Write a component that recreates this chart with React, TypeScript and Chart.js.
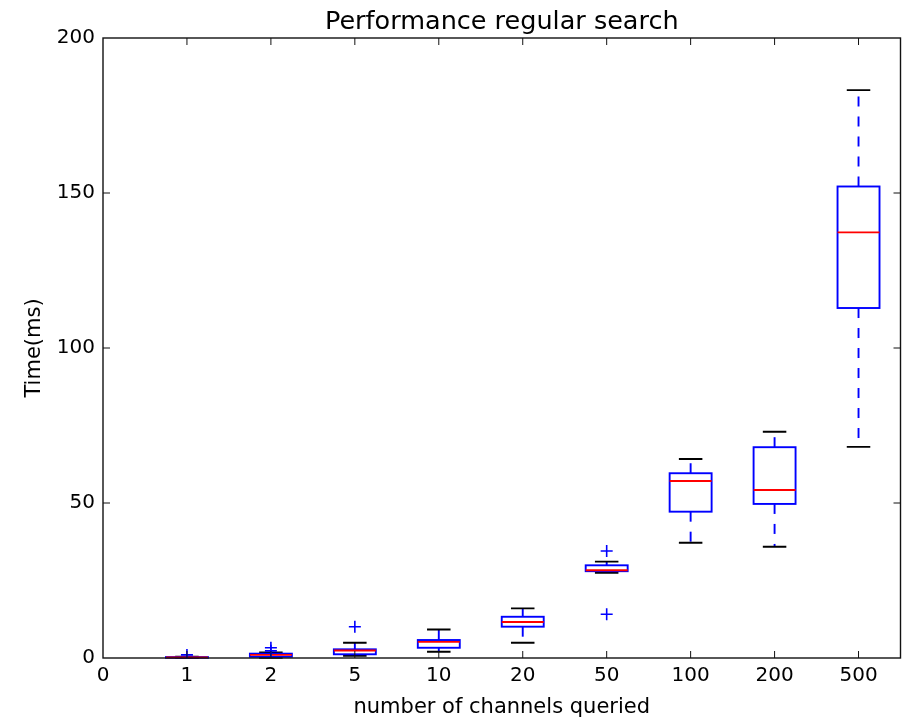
import React, { useEffect, useRef } from 'react';
import { Chart, registerables } from 'chart.js';

Chart.register(...registerables);

// ---- data ----
const categories = ['1', '2', '5', '10', '20', '50', '100', '200', '500'];
const whiskerLow = [0.0, 0.1, 0.75, 2.0, 4.9, 27.5, 37.2, 35.9, 68.1];
const q1 = [0.05, 0.4, 1.2, 3.3, 10.1, 28.0, 47.2, 49.7, 112.9];
const median = [0.2, 1.0, 2.4, 5.2, 11.6, 28.3, 57.1, 54.2, 137.3];
const q3 = [0.3, 1.4, 2.8, 5.8, 13.3, 29.9, 59.6, 68.0, 152.1];
const whiskerHigh = [0.4, 1.8, 4.9, 9.2, 16.0, 31.1, 64.2, 73.0, 183.2];
const outliers: number[][] = [[1.0], [2.3, 3.3], [10.1], [], [], [14.1, 34.5], [], [], []];
const yTicks = [0, 50, 100, 150, 200];
const xTickLabels = ['0', ...categories];

const titleText = 'Performance regular search';
const xLabel = 'number of channels queried';
const yLabel = 'Time(ms)';

const FONT = '"DejaVu Sans", "Liberation Sans", sans-serif';
const BOX_WIDTH = 0.5;
const CAP_WIDTH = 0.28;
const LW = 1.9;

const boxPlugin = {
  id: 'boxplotDraw',
  beforeDatasetsDraw(chart: any) {
    const ctx = chart.ctx;
    const xs = chart.scales.x;
    const ys = chart.scales.y;
    ctx.save();
    categories.forEach((_, i) => {
      const pos = i + 1;
      const cx = xs.getPixelForValue(pos);
      const hw = (xs.getPixelForValue(pos + BOX_WIDTH / 2) - xs.getPixelForValue(pos - BOX_WIDTH / 2)) / 2;
      const cw = (xs.getPixelForValue(pos + CAP_WIDTH / 2) - xs.getPixelForValue(pos - CAP_WIDTH / 2)) / 2;
      const pLo = ys.getPixelForValue(whiskerLow[i]);
      const pQ1 = ys.getPixelForValue(q1[i]);
      const pMed = ys.getPixelForValue(median[i]);
      const pQ3 = ys.getPixelForValue(q3[i]);
      const pHi = ys.getPixelForValue(whiskerHigh[i]);

      // whiskers (dashed blue)
      ctx.strokeStyle = '#0000ff';
      ctx.lineWidth = LW;
      ctx.setLineDash([10, 10]);
      ctx.beginPath();
      ctx.moveTo(cx, pQ1);
      ctx.lineTo(cx, pLo);
      ctx.stroke();
      ctx.beginPath();
      ctx.moveTo(cx, pQ3);
      ctx.lineTo(cx, pHi);
      ctx.stroke();
      ctx.setLineDash([]);

      // caps
      ctx.strokeStyle = '#000000';
      ctx.lineWidth = LW;
      ctx.beginPath();
      ctx.moveTo(cx - cw, pLo);
      ctx.lineTo(cx + cw, pLo);
      ctx.moveTo(cx - cw, pHi);
      ctx.lineTo(cx + cw, pHi);
      ctx.stroke();

      // box
      ctx.strokeStyle = '#0000ff';
      ctx.lineWidth = LW;
      ctx.strokeRect(cx - hw, pQ3, 2 * hw, pQ1 - pQ3);

      // median
      ctx.strokeStyle = '#ff0000';
      ctx.beginPath();
      ctx.moveTo(cx - hw, pMed);
      ctx.lineTo(cx + hw, pMed);
      ctx.stroke();
    });
    ctx.restore();
  },
  afterDraw(chart: any) {
    const ctx = chart.ctx;
    const { left, right, top, bottom } = chart.chartArea;
    const xs = chart.scales.x;
    const ys = chart.scales.y;
    ctx.save();
    // frame
    ctx.strokeStyle = '#111111';
    ctx.lineWidth = 1.4;
    ctx.strokeRect(left, top, right - left, bottom - top);
    // inward ticks
    const tl = 7;
    ctx.lineWidth = 1;
    ctx.beginPath();
    xs.ticks.forEach((t: any) => {
      const px = xs.getPixelForValue(t.value);
      if (px <= left + 1 || px >= right - 1) return;
      ctx.moveTo(px, bottom);
      ctx.lineTo(px, bottom - tl);
      ctx.moveTo(px, top);
      ctx.lineTo(px, top + tl);
    });
    ys.ticks.forEach((t: any) => {
      const py = ys.getPixelForValue(t.value);
      if (py <= top + 1 || py >= bottom - 1) return;
      ctx.moveTo(left, py);
      ctx.lineTo(left + tl, py);
      ctx.moveTo(right, py);
      ctx.lineTo(right - tl, py);
    });
    ctx.stroke();
    // title centred over the plot area
    ctx.fillStyle = '#000000';
    ctx.font = `25.5px ${FONT}`;
    ctx.textAlign = 'center';
    ctx.textBaseline = 'alphabetic';
    ctx.fillText(titleText, (left + right) / 2, 28.5);
    ctx.restore();
  },
};

export default function App() {
  const canvasRef = useRef<HTMLCanvasElement | null>(null);

  useEffect(() => {
    if (!canvasRef.current) return;
    const outlierPoints: { x: number; y: number }[] = [];
    outliers.forEach((list, i) => list.forEach((v) => outlierPoints.push({ x: i + 1, y: v })));

    const chart = new Chart(canvasRef.current, {
      type: 'scatter',
      data: {
        datasets: [
          {
            label: 'outliers',
            data: outlierPoints,
            pointStyle: 'cross',
            pointRadius: 6,
            pointBorderWidth: 1.6,
            borderColor: '#0000ff',
            backgroundColor: '#0000ff',
            showLine: false,
          },
        ],
      },
      options: {
        animation: false,
        responsive: false,
        devicePixelRatio: 1,
        layout: { autoPadding: false, padding: { top: 38, right: 1.5, bottom: 0, left: 0 } },
        plugins: {
          legend: { display: false },
          tooltip: { enabled: false },
          title: { display: false },
        },
        scales: {
          x: {
            type: 'linear',
            min: 0,
            max: 9.5,
            afterBuildTicks: (s: any) => {
              s.ticks = xTickLabels.map((_, i) => ({ value: i }));
            },
            afterFit: (s: any) => {
              s.height = 64;
              s.paddingLeft = 0;
              s.paddingRight = 0;
            },
            ticks: {
              autoSkip: false,
              maxRotation: 0,
              padding: 6,
              color: '#000000',
              font: { family: FONT, size: 20 },
              callback: (v: any) => xTickLabels[Math.round(Number(v))] ?? '',
            },
            grid: { display: false, drawTicks: false },
            border: { display: false },
            title: {
              display: true,
              text: xLabel,
              color: '#000000',
              font: { family: FONT, size: 21 },
              padding: { top: 0, bottom: 1.5 },
            },
          },
          y: {
            type: 'linear',
            min: 0,
            max: 200,
            afterBuildTicks: (s: any) => {
              s.ticks = yTicks.map((v) => ({ value: v }));
            },
            afterFit: (s: any) => {
              s.width = 103;
              s.paddingTop = 0;
              s.paddingBottom = 0;
            },
            ticks: {
              padding: 8,
              color: '#000000',
              font: { family: FONT, size: 20 },
            },
            grid: { display: false, drawTicks: false },
            border: { display: false },
            title: {
              display: true,
              text: yLabel,
              color: '#000000',
              font: { family: FONT, size: 21 },
              padding: { top: 22, bottom: 0 },
            },
          },
        },
      },
      plugins: [boxPlugin],
    });
    return () => chart.destroy();
  }, []);

  return (
    <div style={{ position: 'absolute', left: 0, top: 0, width: 902, height: 722 }}>
      <canvas ref={canvasRef} width={902} height={722} style={{ display: 'block', width: 902, height: 722 }} />
    </div>
  );
}
